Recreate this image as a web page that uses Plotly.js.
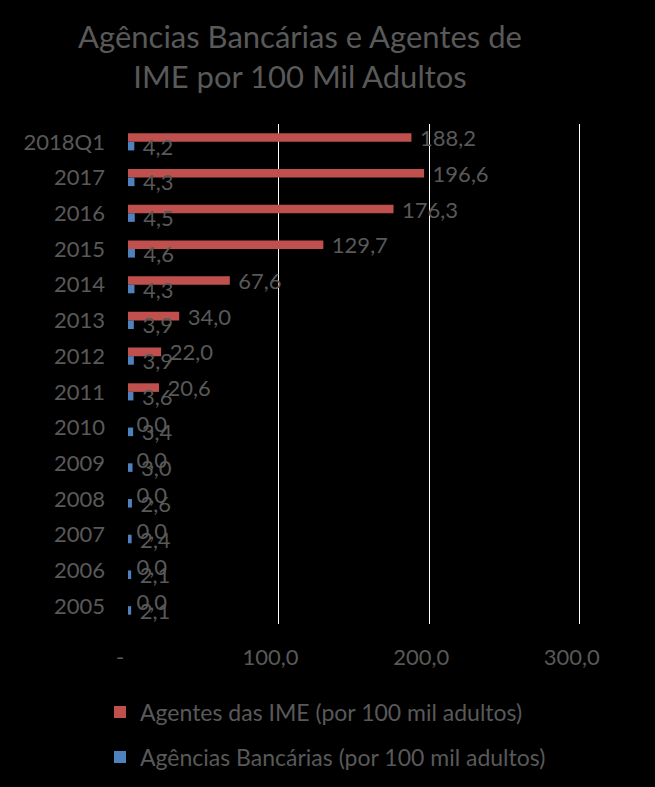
<!DOCTYPE html>
<html>
<head>
<meta charset="utf-8">
<script src="https://cdn.plot.ly/plotly-3.0.1.min.js"></script>
<style>html,body{margin:0;padding:0;background:#000;}#chart{width:655px;height:787px;}</style>
</head>
<body>
<div id="chart"></div>
<script>
const categories = ["2018Q1","2017","2016","2015","2014","2013","2012","2011","2010","2009","2008","2007","2006","2005"];
const agentesIME = [188.2,196.6,176.3,129.7,67.6,34.0,22.0,20.6,0.0,0.0,0.0,0.0,0.0,0.0];
const agenciasBancarias = [4.2,4.3,4.5,4.6,4.3,3.9,3.9,3.6,3.4,3.0,2.6,2.4,2.1,2.1];
const seriesNames = ["Agentes das IME (por 100 mil adultos)","Agências Bancárias (por 100 mil adultos)"];
const xTickVals = [0,100,200,300];
const xTickText = ["-","100,0","200,0","300,0"];
const titleText = "Agências Bancárias e Agentes de<br>IME por 100 Mil Adultos";

const FONT = "Lato, 'Open Sans', sans-serif";
const GREY = "#595959";

const traces = [
  {
    type: "bar", orientation: "h", name: seriesNames[0],
    y: categories, x: agentesIME,
    marker: {color: "#C0504D"},
    text: agentesIME.map(v => "\u2009\u2009" + v.toFixed(1).replace(".", ",")),
    textposition: "outside", constraintext: "none", cliponaxis: false,
    textfont: {family: FONT, size: 22, color: GREY},
    hoverinfo: "skip", legend: "legend"
  },
  {
    type: "bar", orientation: "h", name: seriesNames[1],
    y: categories, x: agenciasBancarias,
    marker: {color: "#4F81BD"},
    text: agenciasBancarias.map(v => "\u2009\u2009" + v.toFixed(1).replace(".", ",")),
    textposition: "outside", constraintext: "none", cliponaxis: false,
    textfont: {family: FONT, size: 22, color: GREY},
    hoverinfo: "skip", legend: "legend2"
  }
];

const layout = {
  width: 655, height: 787,
  paper_bgcolor: "#000", plot_bgcolor: "#000",
  font: {family: FONT, color: GREY, size: 22},
  margin: {l: 128, r: 30, t: 124, b: 163, autoexpand: false},
  barmode: "group", bargap: 0.52, bargroupgap: 0,
  separators: ",.",
  title: {
    text: titleText, font: {family: FONT, size: 31, color: GREY},
    x: 0.458, xref: "container", xanchor: "center",
    y: 1 - 48/787, yref: "container", yanchor: "top"
  },
  xaxis: {
    range: [0, 330], tickvals: xTickVals, ticktext: xTickText,
    showgrid: true, gridcolor: "#FFFFFF", gridwidth: 1,
    zeroline: false, showline: false, ticks: "", automargin: false, tickangle: 0,
    ticklabelstandoff: 18, ticklabelshift: -8,
    tickfont: {family: FONT, size: 22, color: GREY}, fixedrange: true
  },
  yaxis: {
    type: "category", autorange: "reversed", automargin: false,
    showgrid: false, zeroline: false, showline: false, ticks: "",
    ticklabelstandoff: 22,
    tickfont: {family: FONT, size: 22, color: GREY}, fixedrange: true
  },
  showlegend: true,
  legend: {
    xref: "container", yref: "container", x: 100/655, y: 1 - 712/787,
    xanchor: "left", yanchor: "middle", bgcolor: "rgba(0,0,0,0)",
    font: {family: FONT, size: 23, color: GREY}
  },
  legend2: {
    xref: "container", yref: "container", x: 100/655, y: 1 - 757/787,
    xanchor: "left", yanchor: "middle", bgcolor: "rgba(0,0,0,0)",
    font: {family: FONT, size: 23, color: GREY}
  }
};

Plotly.newPlot("chart", traces, layout, {displayModeBar: false, staticPlot: true});
</script>
</body>
</html>
